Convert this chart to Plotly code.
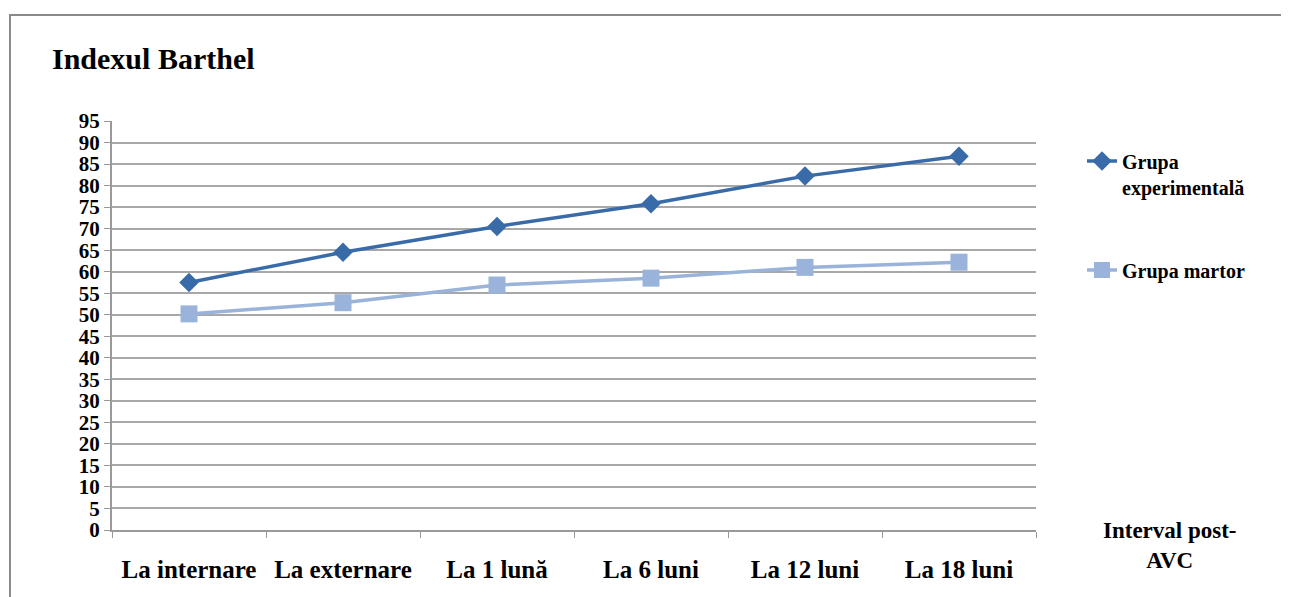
import plotly.graph_objects as go

categories = ["La internare", "La externare", "La 1 lună", "La 6 luni", "La 12 luni", "La 18 luni"]
grupa_experimentala = [57.5, 64.5, 70.5, 75.8, 82.2, 86.8]
grupa_martor = [50.2, 52.8, 56.9, 58.5, 61.0, 62.2]
y_ticks = list(range(0, 96, 5))

FONT = "Liberation Serif, Times New Roman, serif"
OFF = 8  # body margin of the page
L, T, PW, PH = 112 - OFF, 121 - OFF, 924, 409
W, H = 1289 - OFF, 597 - OFF

fig = go.Figure()
fig.add_trace(go.Scatter(
    x=categories, y=grupa_experimentala, mode="lines+markers",
    name="Grupa<br>experimentală", legendgroup="a",
    line=dict(color="#3A6BA9", width=3.5),
    marker=dict(symbol="diamond", size=15, color="#3A6BA9"),
))
fig.add_trace(go.Scatter(
    x=categories, y=grupa_martor, mode="lines+markers",
    name="Grupa martor", legendgroup="b",
    line=dict(color="#9AB3DA", width=3.5),
    marker=dict(symbol="square", size=17, color="#9AB3DA"),
))

fig.update_layout(
    width=W, height=H,
    margin=dict(l=L, r=W - L - PW, t=T, b=H - T - PH),
    paper_bgcolor="white", plot_bgcolor="white",
    font=dict(family=FONT, color="black", weight="bold"),
    title=dict(text="Indexul Barthel", x=(52 - OFF) / W, xref="container", xanchor="left",
               y=1 - (58 - OFF) / H, yref="container", yanchor="middle",
               font=dict(family=FONT, size=30, color="black", weight="bold")),
    legend=dict(x=(1082 - 112) / PW, y=0.95, xanchor="left", yanchor="top",
                font=dict(family=FONT, size=20, color="black", weight="bold"),
                valign="top", tracegroupgap=54, bgcolor="rgba(0,0,0,0)"),
    showlegend=True,
)
fig.update_xaxes(
    type="category", tickson="boundaries", ticks="outside", ticklen=6, tickcolor="#999",
    showline=True, linecolor="#999", linewidth=2, showgrid=False,
    tickfont=dict(family=FONT, size=25, color="black", weight="bold"), ticklabelstandoff=16,
    range=[-0.5, 5.5],
)
fig.update_yaxes(
    range=[0, 95], tickvals=y_ticks, ticks="outside", ticklen=6, tickcolor="#999",
    showline=True, linecolor="#999", linewidth=2,
    showgrid=True, gridcolor="#A8A8A8", gridwidth=2, zeroline=False,
    tickfont=dict(family=FONT, size=21, color="black", weight="bold"),
)
fig.add_annotation(text="Interval post-<br>AVC", xref="paper", yref="paper",
                   x=(1170 - 112) / PW, y=(530 - 545) / PH, xanchor="center", yanchor="middle",
                   showarrow=False, font=dict(family=FONT, size=23, color="black", weight="bold"))
fig.add_shape(type="rect", xref="paper", yref="paper",
              x0=(10 - 112) / PW, x1=(1286 - 112) / PW, y0=(530 - 600) / PH, y1=(530 - 15) / PH,
              line=dict(color="#8A8A8A", width=2))
fig.write_html("out.html")
